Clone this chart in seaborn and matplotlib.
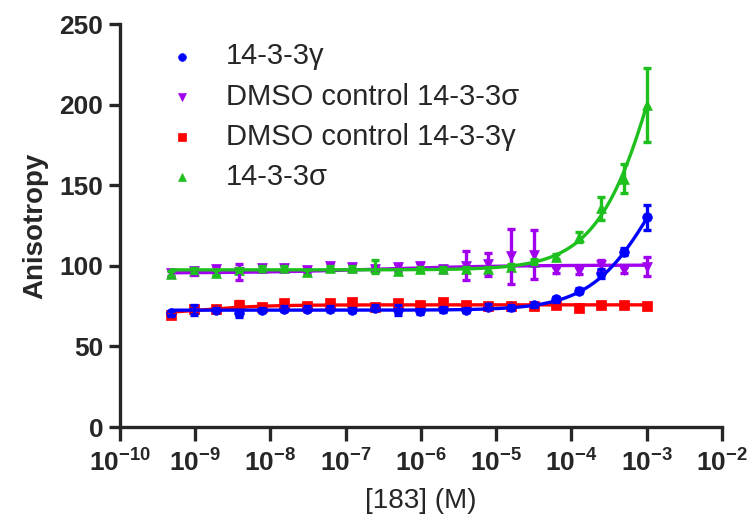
import numpy as np
import pandas as pd
import matplotlib
matplotlib.use("Agg")
import matplotlib.pyplot as plt
import seaborn as sns

# 2-fold dilution series of compound 183 (M)
conc = [4.77e-10, 9.54e-10, 1.91e-9, 3.81e-9, 7.63e-9, 1.53e-8, 3.05e-8, 6.10e-8,
        1.22e-7, 2.44e-7, 4.88e-7, 9.77e-7, 1.95e-6, 3.91e-6, 7.81e-6, 1.56e-5,
        3.13e-5, 6.25e-5, 1.25e-4, 2.50e-4, 5.00e-4, 1.00e-3]

gamma = [70.5, 72.6, 72.6, 70.5, 72.6, 73.4, 73.4, 73.4, 72.6, 74.0, 72.6,
         71.8, 73.0, 72.6, 74.6, 74.2, 75.7, 79.2, 84.6, 95.3, 108.8, 130.0]
gamma_err = [1.5, 3.0, 1.5, 2.0, 1.5, 1.5, 1.5, 1.5, 1.5, 1.5, 3.0,
             1.5, 1.5, 1.5, 1.5, 1.5, 1.5, 1.5, 1.5, 3.0, 2.0, 8.0]

dmso_sigma = [95.7, 96.6, 97.8, 96.0, 98.5, 98.5, 97.5, 100.0, 99.0, 98.0, 99.0,
              100.0, 98.0, 100.0, 101.0, 106.0, 107.0, 97.4, 97.0, 100.5, 97.4, 99.4]
dmso_sigma_err = [2, 2, 2, 5, 2, 2, 2, 2, 2, 2, 2,
                  2, 2, 9, 7, 17, 15, 2, 2, 3, 2, 6]

dmso_gamma = [69.5, 73.4, 73.0, 76.0, 74.2, 76.7, 75.0, 76.7, 77.5, 74.6, 76.7,
              76.0, 77.5, 76.0, 75.0, 75.0, 75.0, 75.7, 73.6, 75.7, 75.7, 75.0]
dmso_gamma_err = [2, 1.5, 1.5, 2, 1.5, 2, 1.5, 2, 2, 1.5, 1.5,
                  1.5, 1.5, 1.5, 1.5, 1.5, 1.5, 1.5, 1.5, 1.5, 1.5, 1.5]

sigma = [95.0, 97.0, 95.7, 97.4, 98.4, 98.4, 96.0, 98.4, 98.4, 99.4, 96.8,
         97.8, 97.8, 97.8, 97.8, 99.4, 102.6, 105.6, 118.0, 135.6, 154.0, 200.0]
sigma_err = [1.5, 1.5, 1.5, 1.5, 1.5, 1.5, 1.5, 1.5, 1.5, 4.0, 1.5,
             1.5, 1.5, 1.5, 1.5, 1.5, 1.5, 1.5, 3.0, 7.0, 9.0, 23.0]

# fitted curve parameters (bottom, top, EC50, hill)
fits = {
    "gamma": (72.5, 209.0, 1.4e-3, 1.0),
    "dmso_sigma": (95.5, 100.5, 3e-7, 0.5),
    "dmso_gamma": (69.5, 75.8, 1.2e-9, 1.0),
    "sigma": (97.5, 404.0, 2.0e-3, 1.0),
}

series = [
    # key, label, values, errors, color, marker, size
    ("dmso_gamma", "DMSO control 14-3-3\u03b3", dmso_gamma, dmso_gamma_err, "#ff0000", "s", 42),
    ("dmso_sigma", "DMSO control 14-3-3\u03c3", dmso_sigma, dmso_sigma_err, "#a000ee", "v", 50),
    ("gamma", "14-3-3\u03b3", gamma, gamma_err, "#0000ff", "o", 48),
    ("sigma", "14-3-3\u03c3", sigma, sigma_err, "#1ec01e", "^", 50),
]
legend_order = ["14-3-3\u03b3", "DMSO control 14-3-3\u03c3",
                "DMSO control 14-3-3\u03b3", "14-3-3\u03c3"]

sns.set_style("ticks")
plt.rcParams["font.family"] = ["Liberation Sans", "DejaVu Sans"]
plt.rcParams["mathtext.default"] = "regular"

fig = plt.figure(figsize=(7.47, 5.24), dpi=100)
ax = fig.add_axes([0.1606, 0.1851, 0.8059, 0.7689])

x = np.array(conc)
xfit = np.logspace(np.log10(x[0]), np.log10(x[-1]), 300)

for key, label, vals, errs, color, marker, size in series:
    bottom, top, ec50, hill = fits[key]
    yfit = bottom + (top - bottom) / (1 + (ec50 / xfit) ** hill)
    sns.lineplot(x=xfit, y=yfit, color=color, lw=2.4, ax=ax, legend=False)
    ax.errorbar(x, vals, yerr=errs, fmt="none", ecolor=color, elinewidth=2.4,
                capsize=3, capthick=2.4)
    df = pd.DataFrame({"conc": x, "aniso": vals})
    sns.scatterplot(data=df, x="conc", y="aniso", color=color, marker=marker,
                    s=size, edgecolor=color, linewidth=0.5, ax=ax, label=label)

ax.set_xscale("log")
ax.set_xlim(1e-10, 1e-2)
ax.set_ylim(0, 250)
ax.set_yticks([0, 50, 100, 150, 200, 250])
ax.set_xticks([10.0 ** e for e in range(-10, -1)])
ax.set_xticklabels([r"10$^{%d}$" % e for e in range(-10, -1)], fontweight="bold")
ax.xaxis.set_minor_locator(matplotlib.ticker.LogLocator(base=10, subs=np.arange(2, 10)))
ax.xaxis.set_minor_formatter(matplotlib.ticker.NullFormatter())

for sp in ["left", "bottom"]:
    ax.spines[sp].set_linewidth(2.4)
sns.despine(ax=ax)
ax.tick_params(axis="both", which="major", width=2.4, length=8, labelsize=19, pad=4)
ax.tick_params(axis="x", which="major", length=10, pad=6, labelsize=19)
ax.tick_params(axis="x", which="minor", width=2.0, length=6)
for lab in ax.get_yticklabels():
    lab.set_fontweight("bold")

ax.set_ylabel("Anisotropy", fontsize=20, fontweight="bold", labelpad=8)
ax.set_xlabel("[183] (M)", fontsize=20, labelpad=8)

h, l = ax.get_legend_handles_labels()
lookup = dict(zip(l, h))
ax.legend([lookup[k] for k in legend_order], legend_order, loc="upper left",
          bbox_to_anchor=(0.035, 1.02), frameon=False, fontsize=21,
          handlelength=1.0, handletextpad=1.0, labelspacing=0.42, markerscale=0.8)

fig.savefig("out.png", dpi=100)
